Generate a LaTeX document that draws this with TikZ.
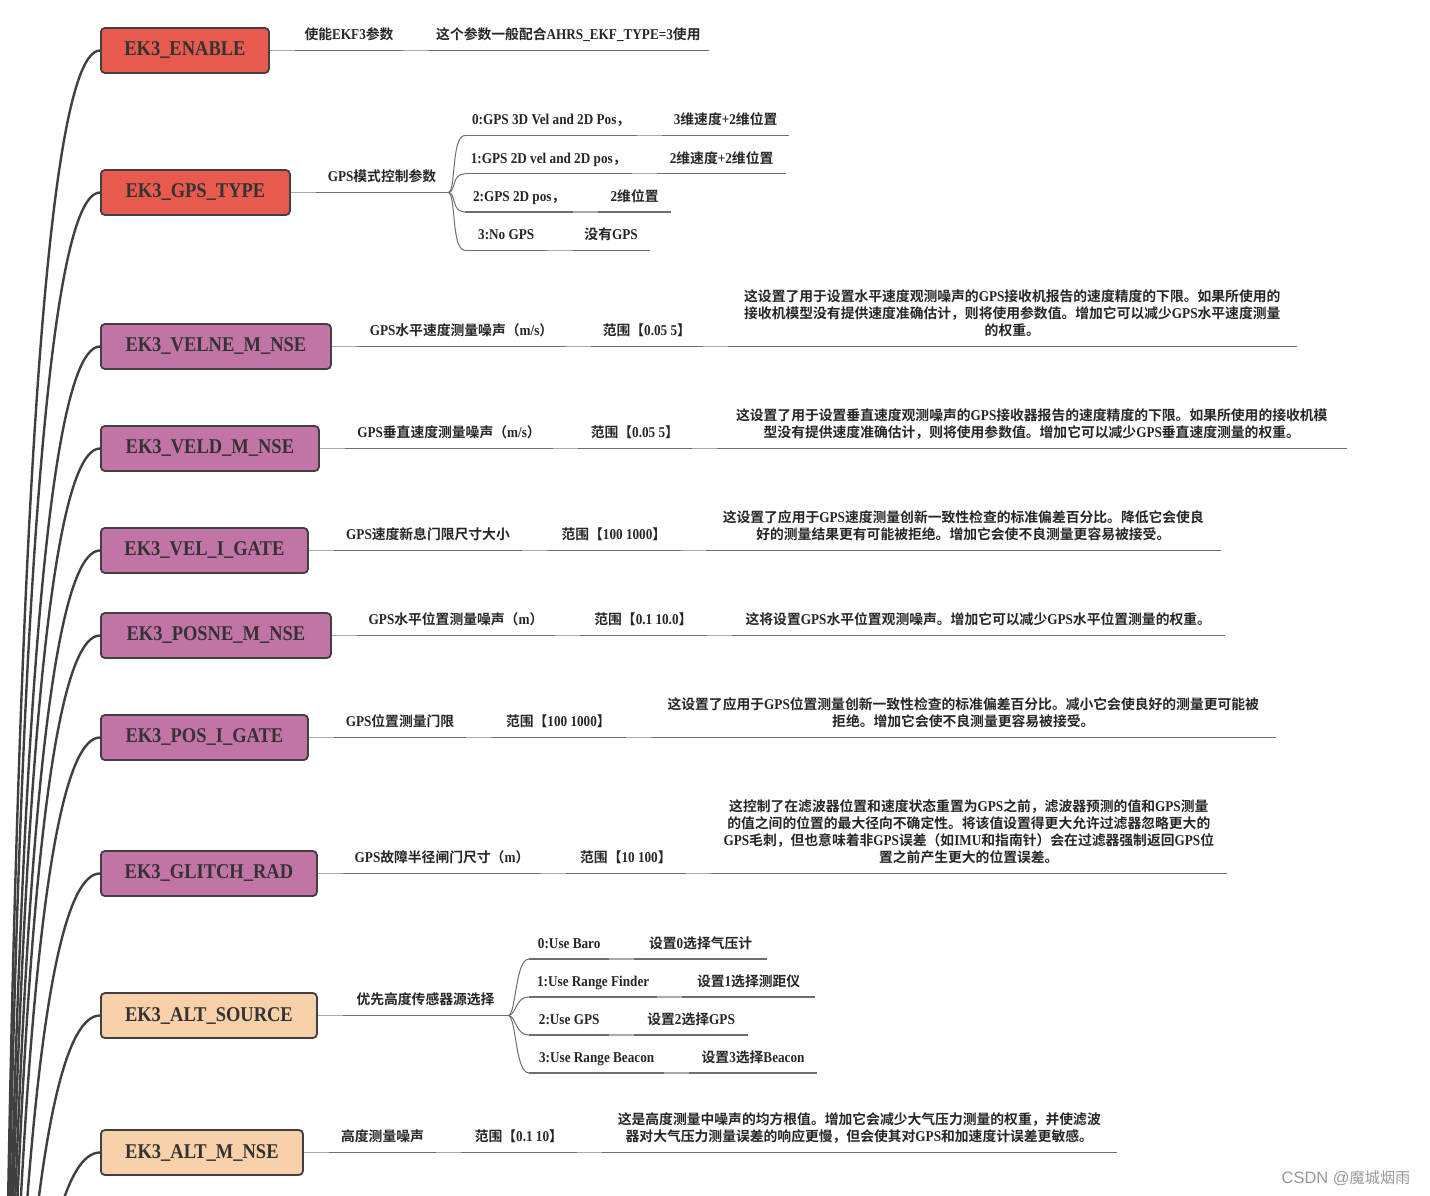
\documentclass[tikz,border=0pt]{standalone}
\usepackage{fontspec}
\setmainfont{Liberation Serif}[FakeStretch=0.88]
\setsansfont{Liberation Sans}
\newfontfamily\cjkfont{Noto Sans CJK SC}[Scale=0.92,BoldFont={Noto Sans CJK SC Bold}]
% Chinese characters pick the CJK family by themselves
\XeTeXinterchartokenstate=1
\newXeTeXintercharclass\cjkclass
\newcount\cjkcnt
\def\setcjkrange#1#2{\cjkcnt=#1\relax
  \loop\XeTeXcharclass\cjkcnt=\cjkclass\advance\cjkcnt by 1\relax\ifnum\cjkcnt<#2\repeat}
\setcjkrange{"3000}{"3040}
\setcjkrange{"4E00}{"A000}
\setcjkrange{"FF00}{"FFF0}
\def\latinfont{\rmfamily}
\XeTeXinterchartoks 0 \cjkclass = {\cjkfont}
\XeTeXinterchartoks 4095 \cjkclass = {\cjkfont}
\XeTeXinterchartoks \cjkclass 0 = {\latinfont}
\XeTeXinterchartoks 4095 0 = {\latinfont}
\usepackage{tikz}
\usetikzlibrary{positioning, calc}
\definecolor{topicred}{RGB}{232,90,78}
\definecolor{topicpurple}{RGB}{194,116,166}
\definecolor{topicpeach}{RGB}{248,208,170}
\definecolor{linkgray}{RGB}{64,64,64}
\definecolor{ulinegray}{RGB}{110,110,110}
\definecolor{joingray}{RGB}{170,170,170}

\tikzset{
  topic/.style={draw=linkgray, line width=1.8pt, rounded corners=4pt, anchor=west,
    minimum height=45pt, inner sep=0pt, text=black!80,
    font=\fontsize{21}{24}\selectfont\bfseries},
  sub/.style={inner xsep=0pt, inner ysep=10.5pt, text depth=0pt, text=black!85,
    font=\fontsize{15}{17}\selectfont\bfseries,
    append after command={(\tikzlastnode.south west) edge[uline] (\tikzlastnode.south east)}},
  nextto/.style={right=25pt of #1, anchor=south west},
  uline/.style={draw=ulinegray, line width=1.2pt},
  linkline/.style={draw=joingray, line width=1.2pt},
  trunk/.style={draw=linkgray, line width=2.4pt},
  branch/.style={draw=ulinegray, line width=1pt},
}

\begin{document}
\begin{tikzpicture}[x=1pt, y=-1pt]
\useasboundingbox (0,0) rectangle (1430,1196);
\clip (0,0) rectangle (1430,1196);
\coordinate (root) at (0,2300);

% Parametres
\foreach \n/\y/\w/\c/\l in {1/50.5/168/topicred/EK3\_ENABLE,
    2/192.5/189/topicred/EK3\_GPS\_TYPE,
    3/346.5/230/topicpurple/EK3\_VELNE\_M\_NSE,
    4/448.5/218/topicpurple/EK3\_VELD\_M\_NSE,
    5/550.5/207/topicpurple/EK3\_VEL\_I\_GATE,
    6/635.5/230/topicpurple/EK3\_POSNE\_M\_NSE,
    7/737.5/207/topicpurple/EK3\_POS\_I\_GATE,
    8/873.5/216/topicpurple/EK3\_GLITCH\_RAD,
    9/1015.5/216/topicpeach/EK3\_ALT\_SOURCE,
    10/1152.5/202/topicpeach/EK3\_ALT\_M\_NSE}
  \node[topic, fill=\c, minimum width=\w] (t\n) at (100,\y) {\l};

% Tronc
\foreach \n in {1,...,10}
  \draw[trunk] (root) .. controls ($(root)!0.667!(root|-t\n.west)$)
    and ($(t\n.west)+(-66.7,0)$) .. (t\n.west);

% EK3_ENABLE
\node[sub, nextto=t1.east, minimum width=108] (a1) {使能EKF3参数};
\node[sub, nextto=a1.south east, minimum width=280] (b1) {这个参数一般配合AHRS\_EKF\_TYPE=3使用};

% EK3_GPS_TYPE
\node[sub, nextto=t2.east, minimum width=132] (a2) {GPS模式控制参数};
\foreach \k/\y/\w/\l/\v/\r in {0/135.5/172/{0:GPS 3D Vel and 2D Pos，}/126/{3维速度+2维位置},
    1/173.8/167/{1:GPS 2D vel and 2D pos，}/128/{2维速度+2维位置},
    2/212/108/{2:GPS 2D pos，}/72/{2维位置},
    3/250.3/82/{3:No GPS}/77/{没有GPS}}
{
  \node[sub, anchor=south west, minimum width=\w] (g\k) at (465,\y) {\l};
  \node[sub, nextto=g\k.south east, minimum width=\v] (gb\k) {\r};
  \draw[branch] (a2.south east) .. controls +(8,0) and +(-14,0) .. (g\k.south west);
}

% EK3_VELNE_M_NSE
\node[sub, nextto=t3.east, minimum width=209] (a3) {GPS水平速度测量噪声（m/s）};
\node[sub, nextto=a3.south east, minimum width=111] (b3) {范围【0.05 5】};
\node[sub, nextto=b3.south east, minimum width=569, align=center] (c3)
  {这设置了用于设置水平速度观测噪声的GPS接收机报告的速度精度的下限。如果所使用的\\
   接收机模型没有提供速度准确估计，则将使用参数值。增加它可以减少GPS水平速度测量\\
   的权重。};

% EK3_VELD_M_NSE
\node[sub, nextto=t4.east, minimum width=208] (a4) {GPS垂直速度测量噪声（m/s）};
\node[sub, nextto=a4.south east, minimum width=113] (b4) {范围【0.05 5】};
\node[sub, nextto=b4.south east, minimum width=630, align=center] (c4)
  {这设置了用于设置垂直速度观测噪声的GPS接收器报告的速度精度的下限。如果所使用的接收机模\\
   型没有提供速度准确估计，则将使用参数值。增加它可以减少GPS垂直速度测量的权重。};

% EK3_VEL_I_GATE
\node[sub, nextto=t5.east, minimum width=188] (a5) {GPS速度新息门限尺寸大小};
\node[sub, nextto=a5.south east, minimum width=133] (b5) {范围【100 1000】};
\node[sub, nextto=b5.south east, minimum width=515, align=center] (c5)
  {这设置了应用于GPS速度测量创新一致性检查的标准偏差百分比。降低它会使良\\
   好的测量结果更有可能被拒绝。增加它会使不良测量更容易被接受。};

% EK3_POSNE_M_NSE
\node[sub, nextto=t6.east, minimum width=198] (a6) {GPS水平位置测量噪声（m）};
\node[sub, nextto=a6.south east, minimum width=126] (b6) {范围【0.1 10.0】};
\node[sub, nextto=b6.south east, minimum width=493] (c6)
  {这将设置GPS水平位置观测噪声。增加它可以减少GPS水平位置测量的权重。};

% EK3_POS_I_GATE
\node[sub, nextto=t7.east, minimum width=132] (a7) {GPS位置测量门限};
\node[sub, nextto=a7.south east, minimum width=134] (b7) {范围【100 1000】};
\node[sub, nextto=b7.south east, minimum width=625, align=center] (c7)
  {这设置了应用于GPS位置测量创新一致性检查的标准偏差百分比。减小它会使良好的测量更可能被\\
   拒绝。增加它会使不良测量更容易被接受。};

% EK3_GLITCH_RAD
\node[sub, nextto=t8.east, minimum width=198] (a8) {GPS故障半径闸门尺寸（m）};
\node[sub, nextto=a8.south east, minimum width=119] (b8) {范围【10 100】};
\node[sub, nextto=b8.south east, minimum width=516, align=center] (c8)
  {这控制了在滤波器位置和速度状态重置为GPS之前，滤波器预测的值和GPS测量\\
   的值之间的位置的最大径向不确定性。将该值设置得更大允许过滤器忽略更大的\\
   GPS毛刺，但也意味着非GPS误差（如IMU和指南针）会在过滤器强制返回GPS位\\
   置之前产生更大的位置误差。};

% EK3_ALT_SOURCE
\node[sub, nextto=t9.east, minimum width=165] (a9) {优先高度传感器源选择};
\foreach \k/\y/\w/\l/\v/\r in {0/959/80/{0:Use Baro}/132/{设置0选择气压计},
    1/997/128/{1:Use Range Finder}/132/{设置1选择测距仪},
    2/1035/80/{2:Use GPS}/113/{设置2选择GPS},
    3/1073/135/{3:Use Range Beacon}/127/{设置3选择Beacon}}
{
  \node[sub, anchor=south west, minimum width=\w] (h\k) at (529,\y) {\l};
  \node[sub, nextto=h\k.south east, minimum width=\v] (hb\k) {\r};
  \draw[branch] (a9.south east) .. controls +(8,0) and +(-14,0) .. (h\k.south west);
}

% EK3_ALT_M_NSE
\node[sub, nextto=t10.east, minimum width=107] (a10) {高度测量噪声};
\node[sub, nextto=a10.south east, minimum width=115] (b10) {范围【0.1 10】};
\node[sub, nextto=b10.south east, minimum width=515, align=center] (c10)
  {这是高度测量中噪声的均方根值。增加它会减少大气压力测量的权重，并使滤波\\
   器对大气压力测量误差的响应更慢，但会使其对GPS和加速度计误差更敏感。};

% Liaisons
\foreach \n in {1,...,10}
  \draw[linkline] (t\n.east) -- (a\n.south west);
\foreach \u/\v in {a1/b1, a3/b3, b3/c3, a4/b4, b4/c4, a5/b5, b5/c5, a6/b6, b6/c6,
    a7/b7, b7/c7, a8/b8, b8/c8, a10/b10, b10/c10,
    g0/gb0, g1/gb1, g2/gb2, g3/gb3, h0/hb0, h1/hb1, h2/hb2, h3/hb3}
  \draw[linkline] (\u.south east) -- (\v.south west);

\node[text=black!40, font={\sffamily\def\latinfont{\sffamily}\fontsize{16.5}{19}\selectfont}]
  (wm) at (1346,1178) {CSDN @魔城烟雨};

\end{tikzpicture}
\end{document}
